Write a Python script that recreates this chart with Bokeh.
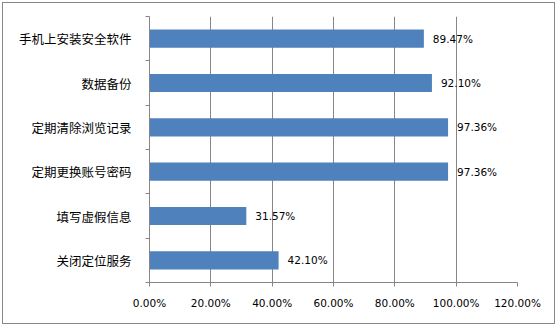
from bokeh.plotting import figure
from bokeh.models import Range1d, FixedTicker, ColumnDataSource, LabelSet
from bokeh.core.properties import value
from bokeh.embed import file_html
from bokeh.resources import INLINE

categories = ["手机上安装安全软件", "数据备份", "定期清除浏览记录", "定期更换账号密码", "填写虚假信息", "关闭定位服务"]
values = [89.47, 92.10, 97.36, 97.36, 31.57, 42.10]
value_labels = ["89.47%", "92.10%", "97.36%", "97.36%", "31.57%", "42.10%"]
x_ticks = [0, 20, 40, 60, 80, 100, 120]
x_tick_labels = ["0.00%", "20.00%", "40.00%", "60.00%", "80.00%", "100.00%", "120.00%"]

GRAY = "#868686"
BAR = "#4F81BD"

n = len(categories)
ypos = [i + 0.5 for i in range(n)]
src = ColumnDataSource(dict(y=ypos, v=values, lab=value_labels))

p = figure(width=553, height=322, output_backend="svg", toolbar_location=None,
           x_range=Range1d(0, 120), y_range=Range1d(n, 0),
           min_border_left=146, min_border_right=39, min_border_top=13, min_border_bottom=43)
p.styles = {"margin": "2px 0 0 2px", "border": "1px solid #868686"}
p.outline_line_color = None
p.background_fill_color = "white"
p.border_fill_color = "white"

p.hbar(y="y", right="v", left=0, height=0.41, source=src, color=BAR, line_color=None)

labels = LabelSet(x="v", y="y", text="lab", source=src, x_offset=9, text_baseline="middle",
                  text_align="left", text_font=value("DejaVu Sans"), text_font_size="10.5px",
                  text_color="#000000")
p.add_layout(labels)

# x axis
p.xaxis.ticker = FixedTicker(ticks=x_ticks)
p.xaxis.major_label_overrides = {t: l for t, l in zip(x_ticks, x_tick_labels)}
p.xaxis.axis_line_color = GRAY
p.xaxis.major_tick_line_color = GRAY
p.xaxis.major_tick_out = 4
p.xaxis.major_tick_in = 0
p.xaxis.minor_tick_line_color = None
p.xaxis.major_label_text_font = "DejaVu Sans"
p.xaxis.major_label_text_font_size = "10.5px"
p.xaxis.major_label_text_color = "#000000"
p.xaxis.major_label_standoff = 10

# y axis
p.yaxis.ticker = FixedTicker(ticks=ypos, minor_ticks=list(range(n + 1)))
p.yaxis.major_label_overrides = {y: c for y, c in zip(ypos, categories)}
p.yaxis.axis_line_color = GRAY
p.yaxis.major_tick_line_color = None
p.yaxis.major_tick_out = 0
p.yaxis.major_tick_in = 0
p.yaxis.minor_tick_line_color = GRAY
p.yaxis.minor_tick_out = 4
p.yaxis.minor_tick_in = 0
p.yaxis.major_label_text_font = "Noto Sans CJK SC"
p.yaxis.major_label_text_font_size = "12.5px"
p.yaxis.major_label_text_color = "#000000"
p.yaxis.major_label_standoff = 14

p.xgrid.grid_line_color = GRAY
p.xgrid.ticker = FixedTicker(ticks=x_ticks)
p.ygrid.grid_line_color = None

open("out.html", "w").write(file_html(p, INLINE))
